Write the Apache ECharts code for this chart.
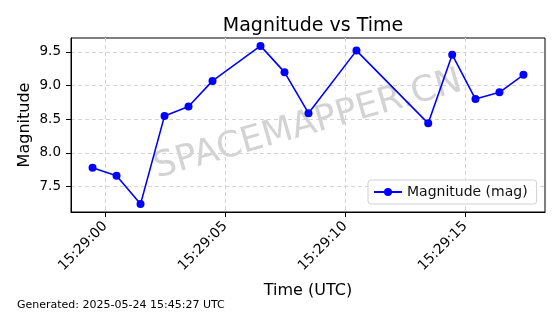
<!DOCTYPE html>
<html>
<head>
<meta charset="utf-8">
<script src="https://cdn.jsdelivr.net/npm/echarts@6/dist/echarts.min.js"></script>
<style>html,body{margin:0;padding:0;background:#fff}#c{width:560px;height:314px}</style>
</head>
<body>
<div id="c"></div>
<script>
var times = ["15:28:59.47","15:29:00.47","15:29:01.47","15:29:02.47","15:29:03.47","15:29:04.47",
             "15:29:06.47","15:29:07.47","15:29:08.47","15:29:10.47","15:29:13.46","15:29:14.46",
             "15:29:15.43","15:29:16.43","15:29:17.43"];
var magnitudes = [7.78, 7.66, 7.24, 8.55, 8.69, 9.07, 9.59, 9.20, 8.59, 9.52, 8.44, 9.46, 8.80, 8.90, 9.16];
var xTickSeconds = [0, 5, 10, 15];            // seconds after 15:29:00
var yTicks = [7.5, 8.0, 8.5, 9.0, 9.5];
var seriesName = "Magnitude (mag)";
var titleText = "Magnitude vs Time";
var footerText = "Generated: 2025-05-24 15:45:27 UTC";
var watermarkText = "SPACEMAPPER.CN";

var baseSec = 15*3600 + 29*60;
function toSec(s){ var p = s.split(":"); return (+p[0])*3600 + (+p[1])*60 + parseFloat(p[2]) - baseSec; }
function fmt(v){ var t = Math.round(baseSec + v); var h=Math.floor(t/3600), m=Math.floor(t%3600/60), s=t%60;
  function z(n){return (n<10?"0":"")+n;} return z(h)+":"+z(m)+":"+z(s); }

var xs = times.map(toSec);
var data = xs.map(function(x,i){ return [x, magnitudes[i]]; });
var xMin = Math.min.apply(null, xs), xMax = Math.max.apply(null, xs);
var xPad = (xMax - xMin) * 0.05;
var yMin = Math.min.apply(null, magnitudes), yMax = Math.max.apply(null, magnitudes);
var yPad = (yMax - yMin) * 0.05;

var font = "DejaVu Sans";
var chart = echarts.init(document.getElementById('c'), null, {renderer: 'canvas'});
chart.setOption({
  animation: false,
  textStyle: {fontFamily: font},
  title: {text: titleText, left: 308, top: 12, textAlign: 'center',
          textStyle: {fontFamily: font, fontSize: 19, fontWeight: 'normal', color: '#000'}},
  grid: {left: 71, right: 15, top: 38, bottom: 102, show: true, borderColor: '#000', borderWidth: 1, containLabel: false},
  legend: {left: 368, top: 180, padding: [5, 9, 5, 5], itemWidth: 28, itemHeight: 10,
           borderColor: '#d0d0d0', borderWidth: 1, borderRadius: 3, backgroundColor: 'rgba(255,255,255,0.8)',
           textStyle: {fontFamily: font, fontSize: 14, color: '#111'}, data: [seriesName]},
  xAxis: {type: 'value', min: xMin - xPad, max: xMax + xPad,
          name: 'Time (UTC)', nameLocation: 'middle', nameGap: 71, nameMoveOverlap: false,
          nameTextStyle: {fontFamily: font, fontSize: 16, color: '#000'},
          axisLine: {onZero: false, lineStyle: {color: '#000'}},
          axisTick: {show: true, length: 5, customValues: xTickSeconds, lineStyle: {color: '#000'}},
          axisLabel: {customValues: xTickSeconds, rotate: 45, margin: 12, fontSize: 14, color: '#000', fontFamily: font,
                      formatter: function(v){ return fmt(v); }},
          splitLine: {show: true, lineStyle: {color: '#d4d4d4', type: [4, 3], width: 1}}},
  yAxis: {type: 'value', min: yMin - yPad, max: yMax + yPad,
          name: 'Magnitude', nameLocation: 'middle', nameGap: 38, nameMoveOverlap: false,
          nameTextStyle: {fontFamily: font, fontSize: 16, color: '#000'},
          axisLine: {show: true, onZero: false, lineStyle: {color: '#000'}},
          axisTick: {show: true, length: 5, customValues: yTicks, lineStyle: {color: '#000'}},
          axisLabel: {customValues: yTicks, margin: 10, fontSize: 13.5, color: '#000', fontFamily: font,
                      formatter: function(v){ return v.toFixed(1); }},
          splitLine: {show: true, lineStyle: {color: '#d4d4d4', type: [4, 3], width: 1}}},
  graphic: [
    {type: 'text', left: 17, top: 300, z: 10,
     style: {text: footerText, fontFamily: font, fontSize: 11, fill: '#000'}},
    {type: 'text', x: 308, y: 125, rotation: 16 * Math.PI / 180, z: 0,
     style: {text: watermarkText, fontFamily: font, fontSize: 35.5, fill: 'rgba(150,150,150,0.42)',
             align: 'center', verticalAlign: 'middle'}}
  ],
  series: [{
    name: seriesName, type: 'line', data: data, symbol: 'circle', symbolSize: 8,
    lineStyle: {color: '#0000ff', width: 1.6}, itemStyle: {color: '#0000ff'}, z: 3
  }]
});
</script>
</body>
</html>
